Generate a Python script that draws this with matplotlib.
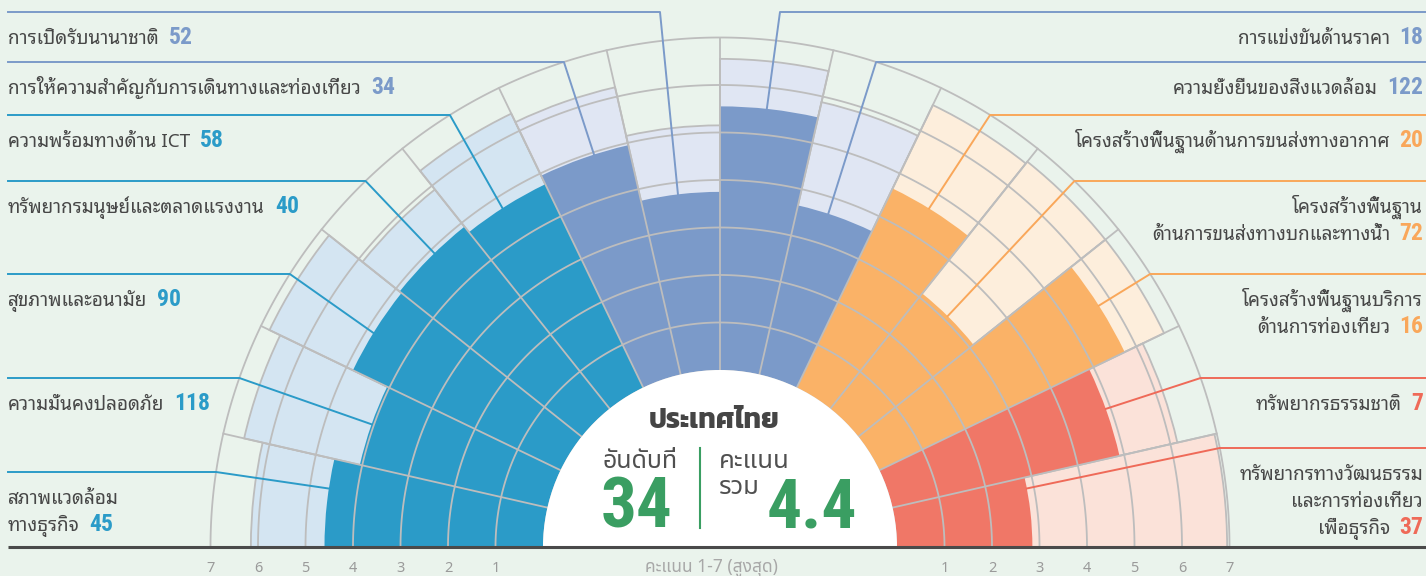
import numpy as np
import matplotlib
matplotlib.use('Agg')
from matplotlib import pyplot as plt
from matplotlib import font_manager as fm
from matplotlib.ft2font import FT2Font
from matplotlib.patches import Wedge

# pillars, going round the half circle from the left baseline to the right one
labels = [
    'สภาพแวดล้อม\nทางธุรกิจ',
    'ความมั่นคงปลอดภัย',
    'สุขภาพและอนามัย',
    'ทรัพยากรมนุษย์และตลาดแรงงาน',
    'ความพร้อมทางด้าน ICT',
    'การให้ความสำคัญกับการเดินทางและท่องเที่ยว',
    'การเปิดรับนานาชาติ',
    'การแข่งขันด้านราคา',
    'ความยั่งยืนของสิ่งแวดล้อม',
    'โครงสร้างพื้นฐานด้านการขนส่งทางอากาศ',
    'โครงสร้างพื้นฐาน\nด้านการขนส่งทางบกและทางน้ำ',
    'โครงสร้างพื้นฐานบริการ\nด้านการท่องเที่ยว',
    'ทรัพยากรธรรมชาติ',
    'ทรัพยากรทางวัฒนธรรม\nและการท่องเที่ยว\nเพื่อธุรกิจ',
]
ranks = [45, 118, 90, 40, 58, 34, 52, 18, 122, 20, 72, 16, 7, 37]
thai_score = [4.6, 4.05, 4.85, 4.9, 4.75, 4.95, 3.75, 5.55, 3.65, 4.65, 3.1, 5.73, 4.9, 2.85]
best_score = [6.15, 6.55, 6.8, 5.9, 6.4, 6.2, 5.15, 6.55, 5.88, 6.6, 6.65, 6.65, 6.15, 6.95]
groups = ['teal'] * 5 + ['slate'] * 4 + ['orange'] * 3 + ['red'] * 2
score_ticks = [1, 2, 3, 4, 5, 6, 7]

country = 'ประเทศไทย'
overall_rank = '34'
overall_score = '4.4'

dark = {'teal': '#2b9bc8', 'slate': '#7b9ac9', 'orange': '#fab267', 'red': '#f07767'}
pale = {'teal': '#d4e5f2', 'slate': '#e0e6f3', 'orange': '#fdeedc', 'red': '#fbe2d9'}
ink = {'teal': '#2b9bc8', 'slate': '#7b9ac9', 'orange': '#f9a75a', 'red': '#ef6a58'}
BG = '#eaf3ec'
GRID = '#bdbdbd'
GREEN = '#3a9e62'
TEXT = '#474747'


def thai_fonts():
    found = {}
    for f in fm.fontManager.ttflist:
        try:
            ok = 0x0E01 in FT2Font(f.fname).get_charmap()
        except Exception:
            ok = False
        if ok:
            w = f.weight if isinstance(f.weight, int) else fm.weight_dict.get(str(f.weight), 400)
            found[f.name] = max(found.get(f.name, 0), w)
    return found


def pick(found, wanted, need_bold=False):
    for name in wanted:
        if name in found and (not need_bold or found[name] >= 600):
            return name
    for name in sorted(found):
        if not need_bold or found[name] >= 600:
            return name
    return 'DejaVu Sans'


def narrow_bold():
    wanted = ['RobotoCondensed-Bold', 'NotoSans-CondensedBold', 'OpenSans-CondensedBold',
              'OpenSans_Condensed-Bold', 'LiberationSansNarrow-Bold', 'DejaVuSansCondensed-Bold']
    files = [f.fname for f in fm.fontManager.ttflist]
    for w in wanted:
        for p in files:
            if w.lower() in p.lower().replace(' ', ''):
                return fm.FontProperties(fname=p)
    for p in files:
        low = p.lower()
        if ('condensed' in low or 'narrow' in low) and 'bold' in low \
                and 'semi' not in low and 'extra' not in low and 'italic' not in low:
            return fm.FontProperties(fname=p)
    return fm.FontProperties(family='Liberation Sans', weight='bold')


found = thai_fonts()
LOOPED = pick(found, ['Noto Sans Thai Looped', 'Loma', 'Garuda', 'Waree', 'Umpush',
                      'Noto Sans Thai', 'Sarabun'])
PLAIN = pick(found, ['Noto Sans Thai', 'Kanit', 'Prompt', 'Noto Sans Thai UI', 'Sarabun',
                     'Loma'])
PLAIN_BOLD = pick(found, ['Noto Sans Thai', 'Kanit', 'Prompt', 'Noto Sans Thai UI',
                          'Sarabun', 'Loma'], need_bold=True)
NUMFP = narrow_bold()


def num_font(size):
    fp = NUMFP.copy()
    fp.set_size(size)
    return fp


W, H = 1426, 576
cx, cy = 720, 547          # centre of the half circle (pixels, y down)
R0, UNIT = 177, 47.5       # radius of score 0 and of one score point


def r_of(s):
    return R0 + UNIT * s


def pt(phi, r):
    a = np.radians(phi)
    return cx + r * np.cos(a), cy - r * np.sin(a)


fig = plt.figure(figsize=(W / 100, H / 100), dpi=100)
fig.patch.set_facecolor(BG)
ax = fig.add_axes([0, 0, 1, 1])
ax.set_xlim(0, W)
ax.set_ylim(H, 0)
ax.axis('off')

n = len(labels)
step = 180.0 / n
r7 = r_of(score_ticks[-1])

for k in range(n):
    p1 = 180 - (k + 1) * step
    p2 = 180 - k * step
    g = groups[k]
    ax.add_patch(Wedge((cx, cy), r_of(best_score[k]), -p2, -p1, width=r_of(best_score[k]) - R0,
                       facecolor=pale[g], edgecolor=GRID, lw=1.3, zorder=1))
    ax.add_patch(Wedge((cx, cy), r_of(thai_score[k]), -p2, -p1, width=r_of(thai_score[k]) - R0,
                       facecolor=dark[g], edgecolor='none', zorder=2))
    t = np.linspace(p1, p2, 40)
    for s in score_ticks:
        x, y = pt(t, r_of(s))
        ax.plot(x, y, color=GRID, lw=1.3, zorder=3, solid_capstyle='butt')

for k in range(1, n):
    phi = 180 - k * step
    x, y = pt(np.array([phi, phi]), np.array([R0, r7]))
    ax.plot(x, y, color=GRID, lw=1.3, zorder=3)

# white centre
ax.add_patch(Wedge((cx, cy), R0, -180, 0, facecolor='white', edgecolor='none', zorder=4))

# baseline and score ticks
ax.plot([8, W], [cy, cy], color='#4a4a4a', lw=2.2, zorder=5, solid_capstyle='butt')
for s in score_ticks:
    for side in (-1, 1):
        ax.text(cx + side * r_of(s), 568, str(s), ha='center', va='center',
                fontsize=10.5, color='#9a9a9a', family=[PLAIN, 'DejaVu Sans'])
ax.text(cx - 9, 568, 'คะแนน 1-7 (สูงสุด)', ha='center', va='center', fontsize=12.5,
        color='#a8a8a8', family=[PLAIN, 'DejaVu Sans'])

# leader lines and labels
line_y = [472, 378, 274, 181, 115, 62, 12, 12, 62, 115, 181, 274, 378, 448]
lead_angle = [171.5, 160.6, 148.3, 134.2, 122.7, 107.8, 96.8,
              83.9, 72.0, 58.3, 45.4, 32.5, 19.7, 10.8]

fig.canvas.draw()
renderer = fig.canvas.get_renderer()
inv = ax.transData.inverted()


def right_edge(artist):
    bb = artist.get_window_extent(renderer)
    return inv.transform((bb.x1, bb.y0))[0]


def left_edge(artist):
    bb = artist.get_window_extent(renderer)
    return inv.transform((bb.x0, bb.y0))[0]


LBL = dict(fontsize=13.6, color=TEXT, family=[LOOPED, 'DejaVu Sans'], zorder=7, va='baseline')

for k in range(n):
    g = groups[k]
    left = k < n // 2
    ly = line_y[k]
    dy = cy - ly
    off = np.sqrt(r7 ** 2 - dy ** 2) if dy < r7 else 60
    ex = cx - off if left else cx + off
    tx, ty = pt(lead_angle[k], r_of(thai_score[k]))
    if left:
        ax.plot([8, ex, tx], [ly, ly, ty], color=ink[g], lw=1.4, zorder=6)
    else:
        ax.plot([W, ex, tx], [ly, ly, ty], color=ink[g], lw=1.4, zorder=6)

    rows = labels[k].split('\n')
    for j, row in enumerate(rows):
        by = ly + 32 + 27 * j
        last = j == len(rows) - 1
        if left:
            t = ax.text(8, by, row, ha='left', **LBL)
            if last:
                x1 = right_edge(t)
                ax.text(x1 + 10, by, str(ranks[k]), ha='left', va='baseline',
                        fontproperties=num_font(17), color=ink[g], zorder=7)
        else:
            if last:
                num = ax.text(W - 3, by, str(ranks[k]), ha='right', va='baseline',
                              fontproperties=num_font(17), color=ink[g], zorder=7)
                x0 = left_edge(num)
                ax.text(x0 - 9, by, row, ha='right', **LBL)
            else:
                ax.text(W - 3, by, row, ha='right', **LBL)

# centre block
ax.text(cx - 6, 428, country, ha='center', va='baseline', fontsize=20, fontweight='bold',
        color='#454545', family=[PLAIN_BOLD, 'DejaVu Sans'], zorder=7)
ax.text(640, 468, 'อันดับที่', ha='center', va='baseline', fontsize=18, color='#505050',
        family=[PLAIN, 'DejaVu Sans'], zorder=7)
ax.text(637, 528, overall_rank, ha='center', va='baseline', fontproperties=num_font(51),
        color=GREEN, zorder=7)
ax.plot([700, 700], [448, 528], color=GREEN, lw=1.5, zorder=7)
ax.text(719, 468, 'คะแนน', ha='left', va='baseline', fontsize=18.5, color='#505050',
        family=[PLAIN, 'DejaVu Sans'], zorder=7)
ax.text(719, 494, 'รวม', ha='left', va='baseline', fontsize=18.5, color='#505050',
        family=[PLAIN, 'DejaVu Sans'], zorder=7)
ax.text(767, 528, overall_score, ha='left', va='baseline', fontproperties=num_font(50),
        color=GREEN, zorder=7)

fig.savefig('out.png', dpi=100, facecolor=BG)
